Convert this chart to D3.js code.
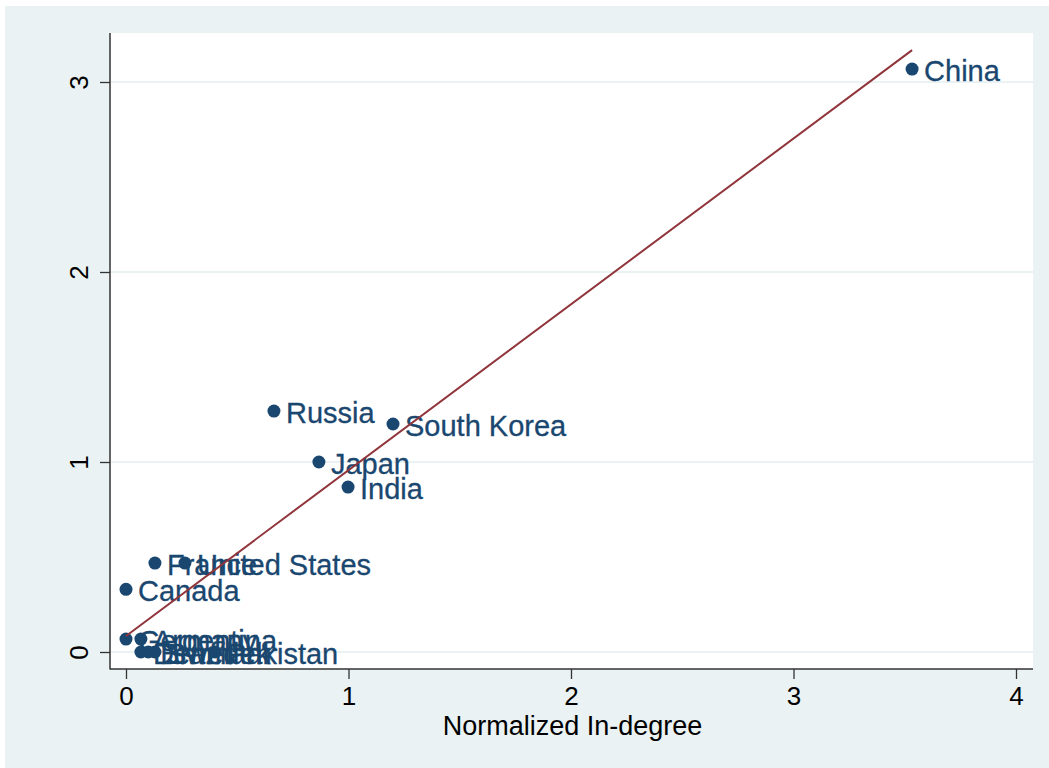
<!DOCTYPE html>
<html>
<head>
<meta charset="utf-8">
<script src="https://cdn.jsdelivr.net/npm/d3@7"></script>
<style>
  html, body { margin: 0; padding: 0; background: #ffffff; }
  svg { display: block; }
  text { font-family: "Liberation Sans", Arial, Helvetica, sans-serif; }
</style>
</head>
<body>
<svg id="chart" width="1049" height="768"></svg>
<script>
// Country labels and their normalized in-degree (x) / out-degree (y)
const countries = ["China", "South Korea", "Russia", "Japan", "India", "France",
  "United States", "Canada", "Germany", "Argentina", "Denmark", "Sweden", "Brazil", "Pakistan"];
const inDegree  = [3.533, 1.200, 0.665, 0.867, 0.998, 0.130, 0.265, 0.000, 0.000, 0.067, 0.067, 0.130, 0.100, 0.400];
const outDegree = [3.068, 1.200, 1.268, 1.000, 0.868, 0.468, 0.468, 0.330, 0.068, 0.068, 0.000, 0.000, 0.000, 0.000];

// Linear fit, endpoints over the range of the data
const fitX = [0, 3.533];
const fitY = [0.084, 3.168];

const xTicks = [0, 1, 2, 3, 4];
const yTicks = [0, 1, 2, 3];
const xTitle = "Normalized In-degree";

const svg = d3.select("#chart");
const W = 1049, H = 768;
const plot = { left: 110, top: 33, right: 1033, bottom: 669 };

const navy = "#1a476f";
const maroon = "#90353b";
const bg = "#eaf2f3";

// Outer graph region
svg.append("rect").attr("x", 5).attr("y", 6).attr("width", W - 5).attr("height", H - 6).attr("fill", bg);
// Plot region
svg.append("rect")
  .attr("x", plot.left).attr("y", plot.top)
  .attr("width", plot.right - plot.left).attr("height", plot.bottom - plot.top)
  .attr("fill", "#ffffff");

const x = d3.scaleLinear().domain([0, 4]).range([126, 1016]);
const y = d3.scaleLinear().domain([0, 3]).range([652, 82]);

// Horizontal gridlines
svg.append("g").selectAll("line").data(yTicks).join("line")
  .attr("x1", plot.left).attr("x2", plot.right)
  .attr("y1", d => y(d)).attr("y2", d => y(d))
  .attr("stroke", bg).attr("stroke-width", 2);

// X axis
const xAxis = svg.append("g").attr("transform", `translate(0,${plot.bottom})`)
  .call(d3.axisBottom(x).tickValues(xTicks).tickFormat(d3.format("d")).tickSize(10).tickSizeOuter(0).tickPadding(8));
xAxis.select(".domain").remove();
xAxis.selectAll(".tick line").attr("stroke", "#333").attr("stroke-width", 1.3);
xAxis.selectAll(".tick text").attr("font-size", 26).attr("fill", "#000")
  .attr("font-family", "Liberation Sans, Arial, sans-serif");

// Y axis
const yAxis = svg.append("g").attr("transform", `translate(${plot.left},0)`)
  .call(d3.axisLeft(y).tickValues(yTicks).tickFormat(d3.format("d")).tickSize(10).tickSizeOuter(0).tickPadding(0));
yAxis.select(".domain").remove();
yAxis.selectAll(".tick line").attr("stroke", "#333").attr("stroke-width", 1.3);
yAxis.selectAll(".tick text")
  .attr("font-size", 26).attr("fill", "#000")
  .attr("font-family", "Liberation Sans, Arial, sans-serif")
  .attr("text-anchor", "middle")
  .attr("x", null).attr("dy", null)
  .attr("transform", "translate(-22,0) rotate(-90)");

// Axis lines
svg.append("line").attr("x1", plot.left).attr("x2", plot.left)
  .attr("y1", plot.top).attr("y2", plot.bottom + 0.5)
  .attr("stroke", "#333").attr("stroke-width", 1.5);
svg.append("line").attr("x1", plot.left).attr("x2", plot.right)
  .attr("y1", plot.bottom).attr("y2", plot.bottom)
  .attr("stroke", "#333").attr("stroke-width", 1.5);

// X axis title
svg.append("text").attr("x", (plot.left + plot.right) / 2 + 1).attr("y", 735)
  .attr("text-anchor", "middle").attr("font-size", 27).attr("fill", "#000")
  .text(xTitle);

const pts = countries.map((c, i) => ({ name: c, x: inDegree[i], y: outDegree[i] }));

// Markers
svg.append("g").selectAll("circle").data(pts).join("circle")
  .attr("cx", d => x(d.x)).attr("cy", d => y(d.y)).attr("r", 6.5)
  .attr("fill", navy);

// Marker labels, to the right of each point
svg.append("g").selectAll("text").data(pts).join("text")
  .attr("x", d => x(d.x) + 12).attr("y", d => y(d.y))
  .attr("dy", "0.4em")
  .attr("font-size", 29).attr("fill", navy)
  .attr("stroke", navy).attr("stroke-width", 0.3)
  .text(d => d.name);

// Fitted line
svg.append("line")
  .attr("x1", x(fitX[0])).attr("y1", y(fitY[0]))
  .attr("x2", x(fitX[1])).attr("y2", y(fitY[1]))
  .attr("stroke", maroon).attr("stroke-width", 2);
</script>
</body>
</html>
